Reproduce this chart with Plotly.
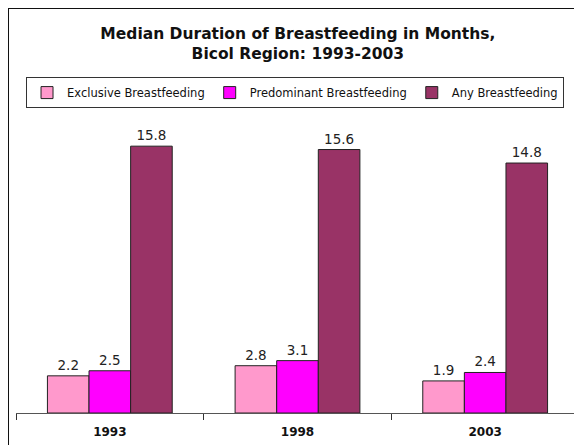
import plotly.graph_objects as go

years = ["1993", "1998", "2003"]
exclusive = [2.2, 2.8, 1.9]
predominant = [2.5, 3.1, 2.4]
any_bf = [15.8, 15.6, 14.8]

series = [
    ("Exclusive Breastfeeding", exclusive, "#FF99CC"),
    ("Predominant Breastfeeding", predominant, "#FF00FF"),
    ("Any Breastfeeding", any_bf, "#993366"),
]

fig = go.Figure()
for name, vals, color in series:
    fig.add_trace(go.Bar(
        x=years, y=vals, name=name,
        marker=dict(color=color, line=dict(color="#222222", width=1)),
        text=[f"{v:.1f}" for v in vals], textposition="outside",
        textfont=dict(size=13.5, color="#222222"),
        cliponaxis=False,
    ))

# page body has an 8px margin, so the figure is a bit smaller than the window
fig.update_layout(
    width=574, height=437,
    margin=dict(l=8, r=3, t=101, b=32),
    paper_bgcolor="white", plot_bgcolor="white",
    font=dict(family="DejaVu Sans", color="#111111"),
    barmode="group", bargap=0.335, bargroupgap=0,
    title=dict(
        text="<b>Median Duration of Breastfeeding in Months,<br>Bicol Region: 1993-2003</b>",
        x=0.505, xanchor="center", y=0.93, yanchor="top",
        font=dict(size=15.5, color="#111111"),
    ),
    legend=dict(
        orientation="h", x=0.0178, y=1.105, xanchor="left", yanchor="top",
        bordercolor="#333333", borderwidth=1, font=dict(size=11.5),
        itemwidth=30, tracegroupgap=0,
    ),
    showlegend=True,
)
fig.update_xaxes(
    showline=True, linecolor="#555555", linewidth=1,
    ticks="outside", tickson="boundaries", ticklen=6, tickcolor="#333333",
    tickfont=dict(size=12, color="#111111"), ticklabelstandoff=8,
    tickprefix="<b>", ticksuffix="</b>",
)
fig.update_yaxes(range=[0, 18], visible=False, showgrid=False)

# outer chart frame (only left and top edges are inside the picture)
fig.add_shape(type="rect", xref="paper", yref="paper",
              x0=-0.0142, x1=1.2, y0=-0.5, y1=1.3322,
              line=dict(color="#111111", width=2), layer="below")

fig.write_html("out.html")
